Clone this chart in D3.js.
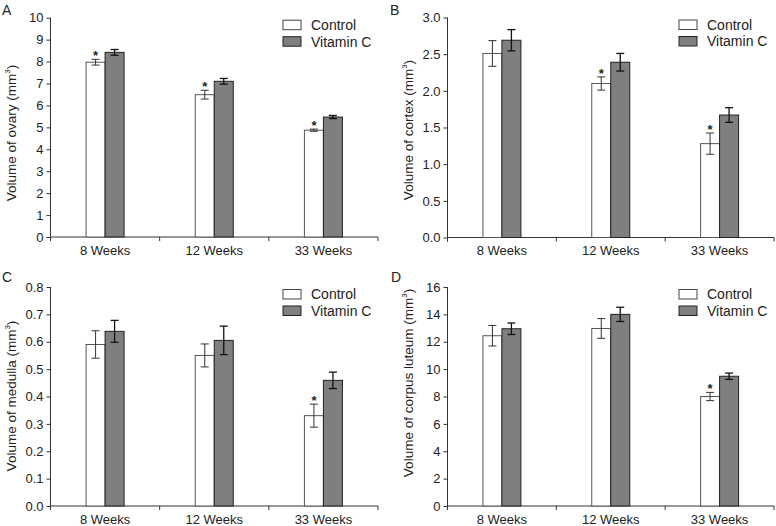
<!DOCTYPE html>
<html>
<head>
<meta charset="utf-8">
<script src="https://cdn.jsdelivr.net/npm/d3@7"></script>
<style>
  html, body { margin: 0; padding: 0; background: #fff; }
  svg { display: block; }
  text { font-family: "Liberation Sans", Arial, Helvetica, sans-serif; fill: #222; }
</style>
</head>
<body>
<svg id="chart" width="776" height="526"></svg>
<script>
// ---------- Data ----------
const categories = ["8 Weeks", "12 Weeks", "33 Weeks"];
const seriesNames = ["Control", "Vitamin C"];

const ovaryControl = [7.97, 6.49, 4.87];
const ovaryControlErr = [0.13, 0.20, 0.05];
const ovaryVitC = [8.42, 7.10, 5.47];
const ovaryVitCErr = [0.13, 0.13, 0.07];
const ovaryStars = [true, true, true];

const cortexControl = [2.51, 2.10, 1.28];
const cortexControlErr = [0.175, 0.09, 0.145];
const cortexVitC = [2.69, 2.39, 1.67];
const cortexVitCErr = [0.145, 0.12, 0.10];
const cortexStars = [false, true, true];

const medullaControl = [0.59, 0.55, 0.33];
const medullaControlErr = [0.05, 0.042, 0.042];
const medullaVitC = [0.638, 0.605, 0.459];
const medullaVitCErr = [0.04, 0.052, 0.03];
const medullaStars = [false, false, true];

const luteumControl = [12.44, 12.97, 8.0];
const luteumControlErr = [0.75, 0.72, 0.30];
const luteumVitC = [12.95, 14.0, 9.48];
const luteumVitCErr = [0.42, 0.52, 0.23];
const luteumStars = [false, false, true];

const ovaryTicks = [0, 1, 2, 3, 4, 5, 6, 7, 8, 9, 10];
const cortexTicks = [0, 0.5, 1.0, 1.5, 2.0, 2.5, 3.0];
const medullaTicks = [0, 0.1, 0.2, 0.3, 0.4, 0.5, 0.6, 0.7, 0.8];
const luteumTicks = [0, 2, 4, 6, 8, 10, 12, 14, 16];

// ---------- Panels ----------
const panels = [
  { letter: "A", label: "Volume of ovary (mm", ctrl: ovaryControl, ctrlErr: ovaryControlErr,
    vit: ovaryVitC, vitErr: ovaryVitCErr, stars: ovaryStars, ticks: ovaryTicks, fmt: d3.format("d"),
    left: 50.5, right: 378, top: 17.7, bottom: 237, letterX: 2, letterY: 15, labelX: 16, labelCY: 133 },
  { letter: "B", label: "Volume of cortex (mm", ctrl: cortexControl, ctrlErr: cortexControlErr,
    vit: cortexVitC, vitErr: cortexVitCErr, stars: cortexStars, ticks: cortexTicks, fmt: d3.format(".1f"),
    left: 447.5, right: 774, top: 17.5, bottom: 237.5, letterX: 390, letterY: 15, labelX: 413, labelCY: 130 },
  { letter: "C", label: "Volume of medulla (mm", ctrl: medullaControl, ctrlErr: medullaControlErr,
    vit: medullaVitC, vitErr: medullaVitCErr, stars: medullaStars, ticks: medullaTicks, fmt: d3.format(".1f"),
    left: 50.5, right: 378, top: 287, bottom: 506, letterX: 2, letterY: 282, labelX: 16, labelCY: 396 },
  { letter: "D", label: "Volume of corpus luteum (mm", ctrl: luteumControl, ctrlErr: luteumControlErr,
    vit: luteumVitC, vitErr: luteumVitCErr, stars: luteumStars, ticks: luteumTicks, fmt: d3.format("d"),
    left: 447.5, right: 774, top: 287, bottom: 506, letterX: 391, letterY: 282, labelX: 413, labelCY: 383 }
];

const svg = d3.select("#chart");
const axisColor = "#333";
const vitFill = "#7f7f7f";
const barW = 19;

panels.forEach(p => {
  const g = svg.append("g");
  const ticks = p.ticks;
  const y = d3.scaleLinear().domain([ticks[0], ticks[ticks.length - 1]]).range([p.bottom, p.top]);
  const x = d3.scaleBand().domain(categories).range([p.left, p.right]).padding(0);
  const xs = d3.scaleBand().domain(seriesNames)
    .range([x.bandwidth() / 2 - barW, x.bandwidth() / 2 + barW]).padding(0);

  // Y axis
  const yAxis = d3.axisLeft(y).tickValues(ticks).tickFormat(p.fmt).tickSize(4).tickSizeOuter(0).tickPadding(3);
  const ya = g.append("g").attr("transform", `translate(${p.left},0)`).call(yAxis);
  ya.select(".domain").attr("stroke", axisColor).attr("d", `M0,${p.top}V${p.bottom + 4}`);
  ya.selectAll(".tick line").attr("stroke", axisColor);
  ya.selectAll(".tick text").style("font-size", "13px").attr("fill", "#222")
    .style("font-family", '"Liberation Sans", Arial, sans-serif');

  // X axis
  g.append("line").attr("x1", p.left).attr("x2", p.right).attr("y1", p.bottom).attr("y2", p.bottom)
    .attr("stroke", axisColor);
  const bounds = categories.map(c => x(c)).concat([x(categories[categories.length - 1]) + x.bandwidth()]);
  g.selectAll(".xt").data(bounds).enter().append("line")
    .attr("x1", d => d).attr("x2", d => d).attr("y1", p.bottom).attr("y2", p.bottom + 4)
    .attr("stroke", axisColor);
  g.selectAll(".xl").data(categories).enter().append("text")
    .attr("x", d => x(d) + x.bandwidth() / 2).attr("y", p.bottom + 17.5)
    .attr("text-anchor", "middle").style("font-size", "13px").text(d => d);

  // Bars
  const rows = categories.map((c, i) => ({ c, i }));
  const cg = g.append("g");
  rows.forEach(({ c, i }) => {
    const bx = x(c);
    // control
    const cx0 = bx + xs("Control");
    cg.append("rect").attr("x", cx0).attr("y", y(p.ctrl[i])).attr("width", xs.bandwidth())
      .attr("height", y(0) - y(p.ctrl[i])).attr("fill", "#fff").attr("stroke", "#555").attr("stroke-width", 1);
    // vitamin C
    const vx0 = bx + xs("Vitamin C");
    cg.append("rect").attr("x", vx0).attr("y", y(p.vit[i])).attr("width", xs.bandwidth())
      .attr("height", y(0) - y(p.vit[i])).attr("fill", vitFill).attr("stroke", "#222").attr("stroke-width", 1);

    // error bars
    const eb = (cx, v, e, col, sw) => {
      const t = y(v + e), b = y(v - e);
      cg.append("line").attr("x1", cx).attr("x2", cx).attr("y1", t).attr("y2", b).attr("stroke", col).attr("stroke-width", sw);
      cg.append("line").attr("x1", cx - 4).attr("x2", cx + 4).attr("y1", t).attr("y2", t).attr("stroke", col).attr("stroke-width", sw);
      cg.append("line").attr("x1", cx - 4).attr("x2", cx + 4).attr("y1", b).attr("y2", b).attr("stroke", col).attr("stroke-width", sw);
    };
    const ccx = cx0 + xs.bandwidth() / 2, vcx = vx0 + xs.bandwidth() / 2;
    eb(ccx, p.ctrl[i], p.ctrlErr[i], "#333", 1);
    eb(vcx, p.vit[i], p.vitErr[i], "#111", 1.3);

    if (p.stars[i]) {
      cg.append("text").attr("x", ccx).attr("y", y(p.ctrl[i] + p.ctrlErr[i]) + 1)
        .attr("text-anchor", "middle").style("font-size", "13px").style("font-weight", "bold").text("*");
    }
  });

  // Legend
  const lx = p.right - 95, ly = p.top + 2.5;
  const leg = g.append("g");
  [["Control", "#fff", "#444"], ["Vitamin C", vitFill, "#222"]].forEach((d, k) => {
    leg.append("rect").attr("x", lx).attr("y", ly + k * 16.5).attr("width", 18).attr("height", 9.5)
      .attr("fill", d[1]).attr("stroke", d[2]);
    leg.append("text").attr("x", lx + 28).attr("y", ly + k * 16.5 + 9.8).style("font-size", "14px").text(d[0]);
  });

  // Panel letter
  g.append("text").attr("x", p.letterX).attr("y", p.letterY).style("font-size", "14px").text(p.letter);

  // Y label
  const yl = g.append("text").attr("transform", `translate(${p.labelX},${p.labelCY}) rotate(-90)`)
    .attr("text-anchor", "middle").style("font-size", "13.5px");
  yl.append("tspan").text(p.label);
  yl.append("tspan").attr("dy", -6).style("font-size", "8px").text("3");
  yl.append("tspan").attr("dy", 6).text(")");
});
</script>
</body>
</html>
